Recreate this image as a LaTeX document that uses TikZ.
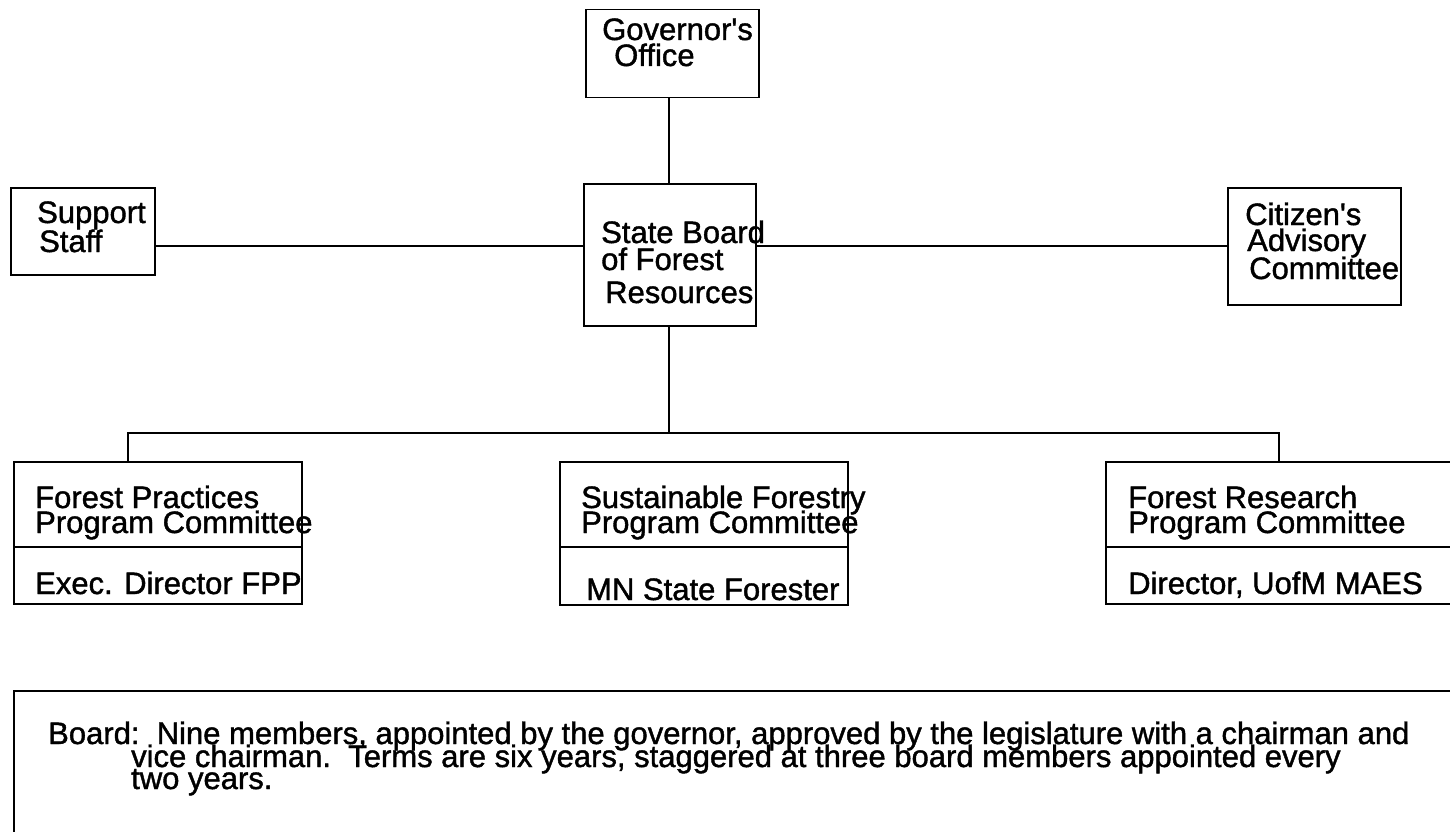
\documentclass[tikz,border=0pt]{standalone}
\usepackage{fontspec}
\setmainfont[Ligatures=TeXOff,FakeBold=1.3]{Liberation Sans}
\begin{document}
\begin{tikzpicture}[x=1pt,y=-1pt,
  box/.style={draw=black,line width=1.5pt,inner sep=0pt},
  txt/.style={anchor=base west,inner sep=0pt,font=\fontsize{31}{25}\selectfont},
  conn/.style={draw=black,line width=1.5pt}]
\useasboundingbox (0,0) rectangle (1450,832);
% boxes
\node[box,minimum width=173pt,minimum height=88pt,anchor=north west] (gov) at (585,9) {};
\node[box,minimum width=172pt,minimum height=142pt,anchor=north west] (board) at (583,183) {};
\node[box,minimum width=144pt,minimum height=87pt,anchor=north west] (support) at (10,187) {};
\node[box,minimum width=173pt,minimum height=117pt,anchor=north west] (citizen) at (1227,187) {};
\node[box,minimum width=288pt,minimum height=142pt,anchor=north west] (fpp) at (13,461) {};
\node[box,minimum width=288pt,minimum height=143pt,anchor=north west] (sfp) at (559,461) {};
\node[box,minimum width=350pt,minimum height=142pt,anchor=north west] (frp) at (1105,461) {};
\node[box,minimum width=1460pt,minimum height=160pt,anchor=north west] (note) at (13,690) {};
% dividers
\draw[conn] (fpp.west |- 0,547) -- (fpp.east |- 0,547);
\draw[conn] (sfp.west |- 0,547) -- (sfp.east |- 0,547);
\draw[conn] (frp.west |- 0,547) -- (frp.east |- 0,547);
% connectors
\coordinate (hl) at (0,246);
\coordinate (bus) at (0,433);
\draw[conn] (board.north -| 669,0) -- (gov.south -| 669,0);
\draw[conn] (support.east |- hl) -- (board.west |- hl);
\draw[conn] (board.east |- hl) -- (citizen.west |- hl);
\draw[conn] (board.south -| 669,0) -- (bus -| 669,0);
\draw[conn] (fpp.north -| 128,0) -- (bus -| 128,0) -- (bus -| 1279,0) -- (frp.north -| 1279,0);
% texts
\node[txt] (t1) at (602,40) {Governor's};
\node[txt] (t2) at (614,66) {Office};
\node[txt] (t3) at (601,243) {State Board};
\node[txt] (t4) at (601,270) {of Forest};
\node[txt] (t5) at (605,303) {Resources};
\node[txt] (t6) at (37,223) {Support};
\node[txt] (t7) at (39,252) {Staff};
\node[txt] (t8) at (1245,225) {Citizen's};
\node[txt] (t9) at (1247,251) {Advisory};
\node[txt] (t10) at (1249,279) {Committee};
\node[txt] (t11) at (35,508) {Forest Practices};
\node[txt] (t12) at (35,533) {Program Committee};
\node[txt] (t13) at (35,594) {Exec. Director FPP};
\node[txt] (t14) at (581,508) {Sustainable Forestry};
\node[txt] (t15) at (581,533) {Program Committee};
\node[txt] (t16) at (586,600) {MN State Forester};
\node[txt] (t17) at (1128,508) {Forest Research};
\node[txt] (t18) at (1128,533) {Program Committee};
\node[txt] (t19) at (1128,594) {Director, UofM MAES};
\node[txt] (t20) at (48,744) {Board:\ \ Nine members, appointed by the governor, approved by the legislature with a chairman and};
\node[txt] (t21) at (131,767) {vice chairman.\ \ Terms are six years, staggered at three board members appointed every};
\node[txt] (t22) at (131,789) {two years.};
\end{tikzpicture}
\end{document}
